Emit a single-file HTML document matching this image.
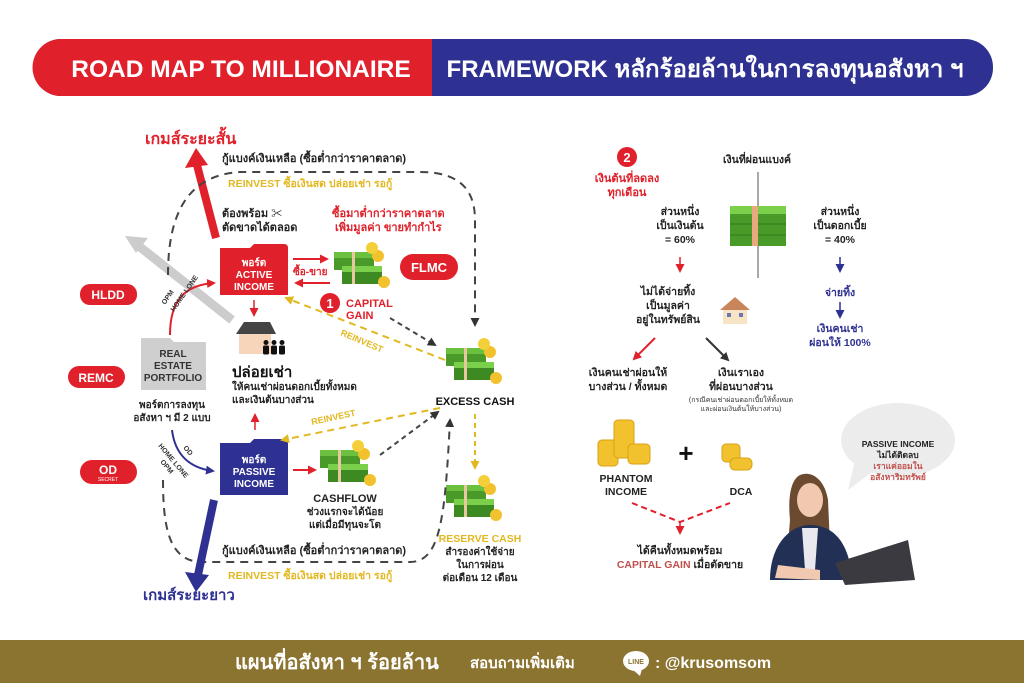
<!DOCTYPE html>
<html><head><meta charset="utf-8"><style>
html,body{margin:0;padding:0;background:#fff;width:1024px;height:683px;overflow:hidden}
svg text{font-family:"Liberation Sans","Noto Sans CJK SC",sans-serif}
</style></head><body>
<svg width="1024" height="683" viewBox="0 0 1024 683" xmlns="http://www.w3.org/2000/svg">
<defs>
<marker id="ak" markerUnits="userSpaceOnUse" markerWidth="9" markerHeight="9" refX="7" refY="4.5" orient="auto"><path d="M0,0 L9,4.5 L0,9z" fill="#333"/></marker>
<marker id="ar" markerUnits="userSpaceOnUse" markerWidth="9" markerHeight="9" refX="7" refY="4.5" orient="auto"><path d="M0,0 L9,4.5 L0,9z" fill="#e0202a"/></marker>
<marker id="ab" markerUnits="userSpaceOnUse" markerWidth="9" markerHeight="9" refX="7" refY="4.5" orient="auto"><path d="M0,0 L9,4.5 L0,9z" fill="#2e3192"/></marker>
<marker id="ay" markerUnits="userSpaceOnUse" markerWidth="9" markerHeight="9" refX="7" refY="4.5" orient="auto"><path d="M0,0 L9,4.5 L0,9z" fill="#e2b820"/></marker>
<g id="money">
<rect x="0" y="14" width="40" height="14" fill="#4a9a2a"/><rect x="0" y="10" width="40" height="6" fill="#6cc040"/>
<rect x="8" y="28" width="40" height="14" fill="#3d8a22"/><rect x="8" y="24" width="40" height="6" fill="#7ad04a"/>
<circle cx="44" cy="14" r="6" fill="#f2c12e"/><circle cx="38" cy="6" r="6" fill="#f5cf3a"/><circle cx="50" cy="40" r="6" fill="#f2c12e"/>
<rect x="18" y="10" width="3" height="32" fill="#e9c7a0"/>
</g>
<g id="person"><circle cx="3" cy="2.5" r="2.5" fill="#111"/><rect x="0" y="5.5" width="6" height="9" rx="1.5" fill="#111"/></g>
</defs>

<!-- header -->
<rect x="33" y="39" width="960" height="57" rx="28" fill="#2e3192"/>
<path d="M61,39 H432 V96 H61 A28,28 0 0 1 61,39z" fill="#e0202a"/>
<text x="241" y="77" font-size="24.5" font-weight="bold" fill="#fff" text-anchor="middle">ROAD MAP TO MILLIONAIRE</text>
<text x="705" y="77" font-size="24" font-weight="bold" fill="#fff" text-anchor="middle">FRAMEWORK หลักร้อยล้านในการลงทุนอสังหา ฯ</text>

<!-- left diagram -->
<text x="145" y="144" font-size="16" font-weight="bold" fill="#e0202a">เกมส์ระยะสั้น</text>
<line x1="216" y1="238" x2="197" y2="165" stroke="#e0202a" stroke-width="8"/>
<path d="M185,168 L196,148 L208,165z" fill="#e0202a"/>
<line x1="232" y1="320" x2="135" y2="243" stroke="#ccc" stroke-width="9"/>
<path d="M125,236 L148,238 L136,253z" fill="#ccc"/>
<path d="M168,275 C168,210 190,175 240,172 H420 C460,172 475,190 475,220 V325" fill="none" stroke="#444" stroke-width="2" stroke-dasharray="8,6" marker-end="url(#ak)"/>
<text x="222" y="162" font-size="11" font-weight="bold" fill="#222">กู้แบงค์เงินเหลือ (ซื้อต่ำกว่าราคาตลาด)</text>
<text x="228" y="187" font-size="10.5" font-weight="bold" fill="#e2b820">REINVEST ซื้อเงินสด ปล่อยเช่า รอกู้</text>
<text x="222" y="217" font-size="11" font-weight="bold" fill="#222">ต้องพร้อม ✂</text>
<text x="222" y="231" font-size="11" font-weight="bold" fill="#222">ตัดขาดได้ตลอด</text>
<text x="332" y="217" font-size="11" font-weight="bold" fill="#e0202a">ซื้อมาต่ำกว่าราคาตลาด</text>
<text x="335" y="231" font-size="11" font-weight="bold" fill="#e0202a">เพิ่มมูลค่า ขายทำกำไร</text>
<path d="M220,248 H250 L254,244 H284 Q288,244 288,248 V295 H220z" fill="#e0202a"/>
<text x="254" y="266" font-size="10" font-weight="bold" fill="#fff" text-anchor="middle">พอร์ต</text>
<text x="254" y="278" font-size="10" font-weight="bold" fill="#fff" text-anchor="middle">ACTIVE</text>
<text x="254" y="290" font-size="10" font-weight="bold" fill="#fff" text-anchor="middle">INCOME</text>
<line x1="293" y1="259" x2="327" y2="259" stroke="#e0202a" stroke-width="2" marker-end="url(#ar)"/>
<line x1="330" y1="283" x2="296" y2="283" stroke="#e0202a" stroke-width="2" marker-end="url(#ar)"/>
<text x="293" y="275" font-size="10" font-weight="bold" fill="#e0202a">ซื้อ-ขาย</text>
<use href="#money" x="334" y="242"/>
<rect x="400" y="254" width="58" height="26" rx="13" fill="#e0202a"/>
<text x="429" y="272" font-size="13" font-weight="bold" fill="#fff" text-anchor="middle">FLMC</text>
<circle cx="330" cy="303" r="10" fill="#e0202a"/><text x="330" y="308" font-size="13" font-weight="bold" fill="#fff" text-anchor="middle">1</text>
<text x="346" y="307" font-size="11" font-weight="bold" fill="#e0202a">CAPITAL</text>
<text x="346" y="319" font-size="11" font-weight="bold" fill="#e0202a">GAIN</text>
<line x1="390" y1="318" x2="435" y2="345" stroke="#444" stroke-width="2" stroke-dasharray="5,4" marker-end="url(#ak)"/>
<line x1="254" y1="300" x2="254" y2="315" stroke="#e0202a" stroke-width="1.5" marker-end="url(#ar)"/>
<path d="M236,334 L244,322 H270 L276,334z" fill="#444"/><rect x="239" y="334" width="32" height="20" fill="#f6d5bb"/>
<use href="#person" x="263" y="340"/><use href="#person" x="271" y="340"/><use href="#person" x="279" y="340"/>
<text x="232" y="377" font-size="15" font-weight="bold" fill="#111">ปล่อยเช่า</text>
<text x="232" y="390" font-size="10" font-weight="bold" fill="#222">ให้คนเช่าผ่อนดอกเบี้ยทั้งหมด</text>
<text x="232" y="403" font-size="10" font-weight="bold" fill="#222">และเงินต้นบางส่วน</text>
<line x1="445" y1="360" x2="286" y2="298" stroke="#e2b820" stroke-width="2" stroke-dasharray="7,5" marker-end="url(#ay)"/>
<text x="340" y="335" font-size="9" font-weight="bold" fill="#e2b820" transform="rotate(23 340 335)">REINVEST</text>
<rect x="80" y="284" width="57" height="21" rx="10" fill="#e0202a"/><text x="108" y="299" font-size="12" font-weight="bold" fill="#fff" text-anchor="middle">HLDD</text>
<rect x="68" y="366" width="57" height="22" rx="11" fill="#e0202a"/><text x="96" y="382" font-size="12" font-weight="bold" fill="#fff" text-anchor="middle">REMC</text>
<rect x="80" y="460" width="57" height="24" rx="12" fill="#e0202a"/><text x="108" y="474" font-size="12" font-weight="bold" fill="#fff" text-anchor="middle">OD</text><text x="108" y="481" font-size="5" fill="#fff" text-anchor="middle">SECRET</text>
<path d="M141,338 H170 L174,342 H206 V390 H141z" fill="#cfcfcf"/>
<text x="173" y="357" font-size="10" font-weight="bold" fill="#333" text-anchor="middle">REAL</text>
<text x="173" y="369" font-size="10" font-weight="bold" fill="#333" text-anchor="middle">ESTATE</text>
<text x="173" y="381" font-size="10" font-weight="bold" fill="#333" text-anchor="middle">PORTFOLIO</text>
<path d="M170,335 C170,300 185,285 214,283" fill="none" stroke="#e0202a" stroke-width="2" marker-end="url(#ar)"/>
<text x="165" y="305" font-size="7" font-weight="bold" fill="#333" transform="rotate(-55 165 305)">OPM</text>
<text x="174" y="312" font-size="7" font-weight="bold" fill="#333" transform="rotate(-55 174 312)">HOME LONE</text>
<text x="172" y="408" font-size="10" font-weight="bold" fill="#222" text-anchor="middle">พอร์ตการลงทุน</text>
<text x="172" y="421" font-size="10" font-weight="bold" fill="#222" text-anchor="middle">อสังหา ฯ มี 2 แบบ</text>
<path d="M172,430 C175,455 190,468 213,471" fill="none" stroke="#2e3192" stroke-width="2" marker-end="url(#ab)"/>
<text x="183" y="448" font-size="7" font-weight="bold" fill="#333" transform="rotate(50 183 448)">OD</text>
<text x="158" y="446" font-size="7" font-weight="bold" fill="#333" transform="rotate(50 158 446)">HOME LONE</text>
<text x="160" y="462" font-size="7" font-weight="bold" fill="#333" transform="rotate(50 160 462)">OPM</text>
<line x1="255" y1="430" x2="255" y2="415" stroke="#e0202a" stroke-width="1.5" marker-end="url(#ar)"/>
<path d="M220,443 H250 L254,439 H284 Q288,439 288,443 V495 H220z" fill="#2e3192"/>
<text x="254" y="463" font-size="10" font-weight="bold" fill="#fff" text-anchor="middle">พอร์ต</text>
<text x="254" y="475" font-size="10" font-weight="bold" fill="#fff" text-anchor="middle">PASSIVE</text>
<text x="254" y="487" font-size="10" font-weight="bold" fill="#fff" text-anchor="middle">INCOME</text>
<line x1="293" y1="470" x2="315" y2="470" stroke="#e0202a" stroke-width="2" marker-end="url(#ar)"/>
<use href="#money" x="320" y="440"/>
<text x="345" y="502" font-size="11" font-weight="bold" fill="#222" text-anchor="middle">CASHFLOW</text>
<text x="345" y="515" font-size="10" font-weight="bold" fill="#222" text-anchor="middle">ช่วงแรกจะได้น้อย</text>
<text x="345" y="528" font-size="10" font-weight="bold" fill="#222" text-anchor="middle">แต่เมื่อมีทุนจะโต</text>
<line x1="380" y1="455" x2="438" y2="412" stroke="#444" stroke-width="2" stroke-dasharray="5,4" marker-end="url(#ak)"/>
<line x1="440" y1="408" x2="282" y2="440" stroke="#e2b820" stroke-width="2" stroke-dasharray="7,5" marker-end="url(#ay)"/>
<text x="312" y="425" font-size="9" font-weight="bold" fill="#e2b820" transform="rotate(-12 312 425)">REINVEST</text>
<use href="#money" x="446" y="338"/>
<text x="475" y="405" font-size="11" font-weight="bold" fill="#111" text-anchor="middle">EXCESS CASH</text>
<line x1="475" y1="414" x2="475" y2="468" stroke="#e2b820" stroke-width="2" stroke-dasharray="5,4" marker-end="url(#ay)"/>
<use href="#money" x="446" y="475"/>
<text x="480" y="542" font-size="10.5" font-weight="bold" fill="#e2b820" text-anchor="middle">RESERVE CASH</text>
<text x="480" y="555" font-size="10" font-weight="bold" fill="#222" text-anchor="middle">สำรองค่าใช้จ่าย</text>
<text x="480" y="568" font-size="10" font-weight="bold" fill="#222" text-anchor="middle">ในการผ่อน</text>
<text x="480" y="581" font-size="10" font-weight="bold" fill="#222" text-anchor="middle">ต่อเดือน 12 เดือน</text>
<path d="M163,480 C163,530 170,560 200,562 H410 C440,562 445,520 450,420" fill="none" stroke="#444" stroke-width="2" stroke-dasharray="8,6" marker-end="url(#ak)"/>
<text x="222" y="554" font-size="11" font-weight="bold" fill="#222">กู้แบงค์เงินเหลือ (ซื้อต่ำกว่าราคาตลาด)</text>
<text x="228" y="579" font-size="10.5" font-weight="bold" fill="#e2b820">REINVEST ซื้อเงินสด ปล่อยเช่า รอกู้</text>
<line x1="214" y1="500" x2="198" y2="575" stroke="#2e3192" stroke-width="8"/>
<path d="M185,572 L196,592 L209,575z" fill="#2e3192"/>
<text x="143" y="600" font-size="15" font-weight="bold" fill="#2e3192">เกมส์ระยะยาว</text>

<!-- right diagram -->
<circle cx="627" cy="157" r="10" fill="#e0202a"/><text x="627" y="162" font-size="13" font-weight="bold" fill="#fff" text-anchor="middle">2</text>
<text x="627" y="182" font-size="11" font-weight="bold" fill="#e0202a" text-anchor="middle">เงินต้นที่ลดลง</text>
<text x="627" y="196" font-size="11" font-weight="bold" fill="#e0202a" text-anchor="middle">ทุกเดือน</text>
<text x="757" y="163" font-size="10.5" font-weight="bold" fill="#222" text-anchor="middle">เงินที่ผ่อนแบงค์</text>
<line x1="758" y1="172" x2="758" y2="278" stroke="#555" stroke-width="1"/>
<rect x="730" y="208" width="56" height="38" fill="#4a9a2a"/><rect x="730" y="206" width="56" height="8" fill="#7ad04a"/>
<line x1="730" y1="224" x2="786" y2="224" stroke="#2e7a1a"/><line x1="730" y1="235" x2="786" y2="235" stroke="#2e7a1a"/>
<rect x="752" y="206" width="6" height="40" fill="#e9a880"/>
<g font-size="10.5" font-weight="bold" fill="#222" text-anchor="middle">
<text x="680" y="215">ส่วนหนึ่ง</text><text x="680" y="229">เป็นเงินต้น</text><text x="680" y="243">= 60%</text>
<text x="840" y="215">ส่วนหนึ่ง</text><text x="840" y="229">เป็นดอกเบี้ย</text><text x="840" y="243">= 40%</text>
<text x="668" y="295">ไม่ได้จ่ายทิ้ง</text><text x="668" y="309">เป็นมูลค่า</text><text x="668" y="323">อยู่ในทรัพย์สิน</text>
<text x="628" y="376">เงินคนเช่าผ่อนให้</text><text x="628" y="390">บางส่วน / ทั้งหมด</text>
<text x="741" y="376">เงินเราเอง</text><text x="741" y="390">ที่ผ่อนบางส่วน</text>
</g>
<text x="741" y="402" font-size="7" fill="#333" text-anchor="middle">(กรณีคนเช่าผ่อนดอกเบี้ยให้ทั้งหมด</text>
<text x="741" y="411" font-size="7" fill="#333" text-anchor="middle">และผ่อนเงินต้นให้บางส่วน)</text>
<line x1="680" y1="257" x2="680" y2="271" stroke="#e0202a" stroke-width="1.5" marker-end="url(#ar)"/>
<line x1="840" y1="257" x2="840" y2="271" stroke="#2e3192" stroke-width="1.5" marker-end="url(#ab)"/>
<text x="840" y="296" font-size="10.5" font-weight="bold" fill="#2e3192" text-anchor="middle">จ่ายทิ้ง</text>
<line x1="840" y1="302" x2="840" y2="317" stroke="#2e3192" stroke-width="1.5" marker-end="url(#ab)"/>
<text x="840" y="332" font-size="10.5" font-weight="bold" fill="#2e3192" text-anchor="middle">เงินคนเช่า</text>
<text x="840" y="346" font-size="10.5" font-weight="bold" fill="#2e3192" text-anchor="middle">ผ่อนให้ 100%</text>
<path d="M720,310 L735,297 L750,310z" fill="#c9855a"/><rect x="723" y="310" width="24" height="14" fill="#f7e3c5"/>
<rect x="727" y="313" width="4" height="4" fill="#6a7ab0"/><rect x="739" y="313" width="4" height="4" fill="#6a7ab0"/>
<line x1="655" y1="338" x2="634" y2="359" stroke="#e0202a" stroke-width="2" marker-end="url(#ar)"/>
<line x1="706" y1="338" x2="728" y2="360" stroke="#333" stroke-width="2" marker-end="url(#ak)"/>
<g fill="#f2c12e" stroke="#d9a215" stroke-width="1">
<rect x="598" y="440" width="20" height="26" rx="4"/><rect x="614" y="420" width="20" height="38" rx="4"/><rect x="628" y="444" width="22" height="20" rx="4"/>
<rect x="722" y="444" width="18" height="18" rx="4"/><rect x="730" y="458" width="22" height="12" rx="5"/>
</g>
<text x="686" y="462" font-size="26" font-weight="bold" fill="#111" text-anchor="middle">+</text>
<text x="626" y="482" font-size="10.5" font-weight="bold" fill="#222" text-anchor="middle">PHANTOM</text>
<text x="626" y="495" font-size="10.5" font-weight="bold" fill="#222" text-anchor="middle">INCOME</text>
<text x="741" y="495" font-size="10.5" font-weight="bold" fill="#222" text-anchor="middle">DCA</text>
<path d="M632,503 L680,522 L730,503" fill="none" stroke="#e0202a" stroke-width="2" stroke-dasharray="6,4"/>
<line x1="680" y1="522" x2="680" y2="533" stroke="#e0202a" stroke-width="1.5" marker-end="url(#ar)"/>
<text x="680" y="554" font-size="10.5" font-weight="bold" fill="#222" text-anchor="middle">ได้คืนทั้งหมดพร้อม</text>
<text x="680" y="568" font-size="10.5" font-weight="bold" fill="#222" text-anchor="middle"><tspan fill="#c0504d">CAPITAL GAIN</tspan> เมื่อตัดขาย</text>
<!-- bubble -->
<ellipse cx="898" cy="440" rx="57" ry="37" fill="#ececec"/><path d="M855,460 L848,490 L875,470z" fill="#ececec"/>
<text x="898" y="447" font-size="8.5" font-weight="bold" text-anchor="middle" fill="#222">PASSIVE INCOME</text>
<text x="898" y="458" font-size="8.5" font-weight="bold" text-anchor="middle" fill="#222">ไม่ได้ติดลบ</text>
<text x="898" y="469" font-size="8.5" font-weight="bold" text-anchor="middle" fill="#c0504d">เราแค่ออมใน</text>
<text x="898" y="480" font-size="8.5" font-weight="bold" text-anchor="middle" fill="#c0504d">อสังหาริมทรัพย์</text>
<!-- woman -->
<path d="M800,475 C790,480 788,500 790,520 L788,545 L830,545 L828,500 C825,480 812,470 800,475z" fill="#6b4a30"/>
<ellipse cx="810" cy="500" rx="13" ry="17" fill="#f1c9b0"/>
<path d="M770,580 C770,545 790,525 810,525 C835,525 850,545 852,580z" fill="#223056"/>
<path d="M802,528 L818,528 L815,570 L805,570z" fill="#e8e8ee"/>
<path d="M835,563 L908,540 L915,580 L845,585z" fill="#3a3a40"/>
<path d="M778,565 L820,570 L820,580 L775,578z" fill="#f1c9b0"/>

<!-- footer -->
<rect x="0" y="640" width="1024" height="43" fill="#8b7330"/>
<text x="235" y="669" font-size="20" font-weight="bold" fill="#fff">แผนที่อสังหา ฯ ร้อยล้าน</text>
<text x="470" y="668" font-size="15" font-weight="bold" fill="#fff">สอบถามเพิ่มเติม</text>
<ellipse cx="636" cy="661" rx="13" ry="10" fill="#fff"/><path d="M632,669 L640,676 L642,669z" fill="#fff"/>
<text x="636" y="664" font-size="7" font-weight="bold" fill="#8b7330" text-anchor="middle">LINE</text>
<text x="655" y="668" font-size="16" font-weight="bold" fill="#fff">: @krusomsom</text>
</svg>
</body></html>
